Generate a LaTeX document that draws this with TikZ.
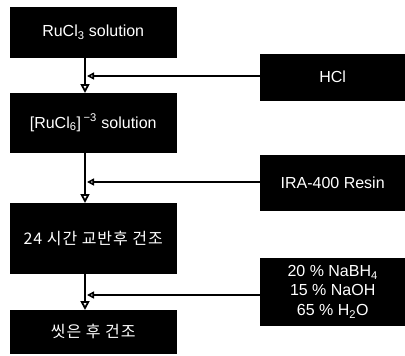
\documentclass[tikz,border=0pt]{standalone}
\usepackage{fontspec}
\setmainfont{Liberation Sans}
\newfontfamily\kr[LetterSpace=6]{Noto Sans CJK KR}
\usetikzlibrary{arrows.meta}
\begin{document}
\begin{tikzpicture}[x=1pt,y=-1pt,
  blk/.style={draw=black,fill=black,text=white,rectangle,inner sep=0pt,anchor=north west,font=\fontsize{16}{19}\selectfont,align=center},
  conn/.style={line width=2.8pt,draw=black},
  vtip/.style={-{Triangle[open,length=9pt,width=9pt,line width=1.8pt]}},
  htip/.style={-{Triangle[open,length=7pt,width=7pt,line width=1.6pt]}}]
\useasboundingbox (0,0) rectangle (405,356);
\fill[white] (0,0) rectangle (405,356);
\node[blk,minimum width=166pt,minimum height=50pt] (b1) at (10,7) {RuCl\textsubscript{3} solution};
\node[blk,minimum width=166pt,minimum height=59pt] (b2) at (10,93) {[RuCl\textsubscript{6}]\,\textsuperscript{−3} solution};
\node[blk,minimum width=166pt,minimum height=70pt] (b3) at (10,203) {\kr 24 시간 교반후 건조};
\node[blk,minimum width=166pt,minimum height=43pt] (b4) at (10,310) {\kr 씻은 후 건조};
\node[blk,minimum width=145pt,minimum height=46pt] (r1) at (260,54) {HCl};
\node[blk,minimum width=145pt,minimum height=55pt] (r2) at (260,155) {IRA-400 Resin};
\node[blk,minimum width=145pt,minimum height=67pt,font=\fontsize{16}{19.5}\selectfont] (r3) at (260,258) {20 \% NaBH\textsubscript{4}\\15 \% NaOH\\65 \% H\textsubscript{2}O};
\coordinate (j1) at (85,76);
\coordinate (j2) at (85,182);
\coordinate (j3) at (85,295);
\draw[conn,vtip] (b1.south -| j1) -- (b2.north -| j1);
\draw[conn,vtip] (b2.south -| j2) -- (b3.north -| j2);
\draw[conn,vtip] (b3.south -| j3) -- (b4.north -| j3);
\draw[conn,htip] (r1.west |- j1) -- ([xshift=2pt]j1);
\draw[conn,htip] (r2.west |- j2) -- ([xshift=2pt]j2);
\draw[conn,htip] (r3.west |- j3) -- ([xshift=2pt]j3);
\end{tikzpicture}
\end{document}
